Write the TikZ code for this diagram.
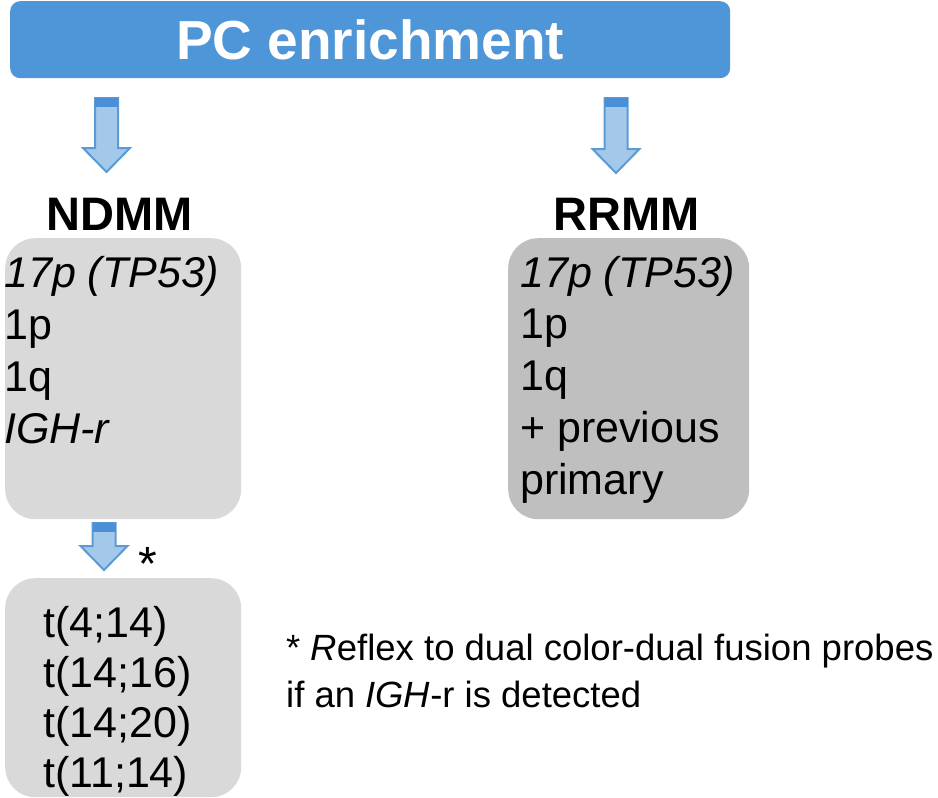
\documentclass[tikz,border=0pt]{standalone}
\usepackage{fontspec}
\setmainfont{Liberation Sans}
\usetikzlibrary{positioning,calc}
\definecolor{bannerblue}{HTML}{4F96D8}
\definecolor{arrowfill}{HTML}{A4C8EA}
\definecolor{arrowedge}{HTML}{5B9BD5}
\definecolor{arrowband}{HTML}{4A8FD8}
\definecolor{lightbox}{HTML}{D9D9D9}
\definecolor{darkbox}{HTML}{BFBFBF}

\begin{document}
\begin{tikzpicture}[x=1pt,y=1pt,
		% Style definitions
		banner/.style={
			rectangle,
			fill=bannerblue,
			rounded corners=10pt,
			minimum width=720pt,
			minimum height=77pt,
			inner sep=0pt,
			text=white,
			font=\fontsize{55}{60}\selectfont\bfseries
		},
		header/.style={inner sep=0pt, font=\fontsize{47}{50}\selectfont\bfseries},
		panel/.style={
			rectangle,
			rounded corners=30pt,
			inner sep=0pt,
			anchor=north west
		},
		listtext/.style={inner sep=0pt, align=left, anchor=base west},
		pics/blockarrow/.style={code={
				\filldraw[fill=arrowfill, draw=arrowedge, line width=2pt]
				(-11.5,0) -- (11.5,0) -- (11.5,24-#1) -- (23.5,24-#1) -- (0,-#1)
				-- (-23.5,24-#1) -- (-11.5,24-#1) -- cycle;
				\fill[arrowband] (-11.5,0) rectangle (11.5,-9);
		}}
		]
		\useasboundingbox (0,0) rectangle (938,-798);
		
		% Top banner
		\node[banner, anchor=north west] (enrich) at (10,-1) {PC enrichment};
		
		% Block arrows
		\pic at (106.5,-98) {blockarrow=74};
		\pic at (616,-98) {blockarrow=75};
		\pic at (104,-523) {blockarrow=47};
		
		% Headers
		\node[header, anchor=base] (ndmm) at (120,-230) {NDMM};
		\node[header, anchor=base] (rrmm) at (627,-230) {RRMM};
		
		% Panels
		\node[panel, fill=lightbox, minimum width=236pt, minimum height=281pt] (ndbox) at (5,-238) {};
		\node[panel, fill=darkbox, minimum width=241pt, minimum height=281pt] (rrbox) at (508,-238) {};
		\node[panel, fill=lightbox, minimum width=236pt, minimum height=219pt] (trbox) at (5,-578) {};
		
		% Panel contents (anchored at the last line)
		\node[listtext, font=\fontsize{43}{51.7}\selectfont] (ndlist) at ([shift={(-1,-205)}]ndbox.north west)
		{\textit{17p (TP53)}\\1p\\1q\\\textit{IGH-r}};
		\node[listtext, font=\fontsize{43}{51.7}\selectfont] (rrlist) at ([shift={(12,-256)}]rrbox.north west)
		{\textit{17p (TP53)}\\1p\\1q\\+ previous\\primary};
		\node[listtext, font=\fontsize{43}{50}\selectfont] (trlist) at ([shift={(38,-209)}]trbox.north west)
		{t(4;14)\\t(14;16)\\t(14;20)\\t(11;14)};
		
		% Footnote
		\node[anchor=base, inner sep=0pt, font=\fontsize{48}{50}\selectfont] (star) at (148,-580) {*};
		\node[listtext, font=\fontsize{36.5}{47}\selectfont] (note) at (286,-707)
		{* \textit{R}eflex to dual color-dual fusion probes\\if an \textit{IGH}-r is detected};
		
	\end{tikzpicture}
\end{document}
